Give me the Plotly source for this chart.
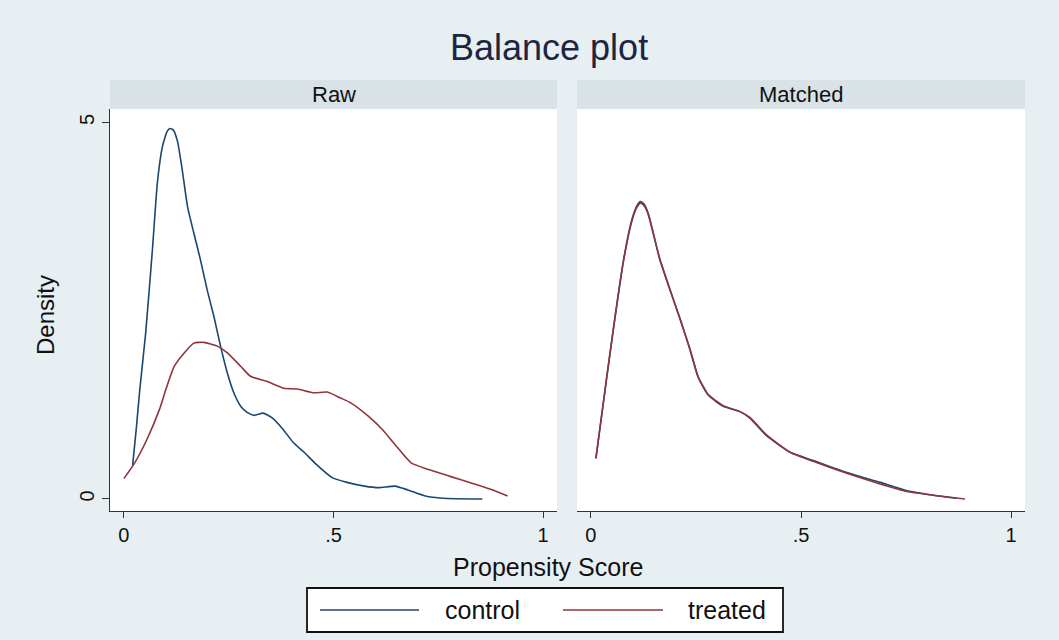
import plotly.graph_objects as go

# ---------------- data ----------------
raw_control_x = [0.021, 0.030, 0.038, 0.052, 0.068, 0.080, 0.092, 0.103, 0.110, 0.118, 0.128, 0.138, 0.152, 0.167,
                 0.183, 0.199, 0.215, 0.231, 0.247, 0.263, 0.280, 0.294, 0.311, 0.332, 0.353, 0.379,
                 0.404, 0.430, 0.455, 0.498, 0.532, 0.574, 0.608, 0.647, 0.677, 0.719, 0.762, 0.855]
raw_control_y = [0.45, 0.95, 1.45, 2.20, 3.30, 4.20, 4.68, 4.88, 4.92, 4.90, 4.75, 4.42, 3.88, 3.53,
                 3.17, 2.77, 2.42, 2.02, 1.67, 1.40, 1.22, 1.15, 1.11, 1.14, 1.08, 0.93,
                 0.75, 0.62, 0.48, 0.28, 0.22, 0.17, 0.15, 0.17, 0.12, 0.04, 0.01, 0.00]

raw_treated_x = [0.0, 0.026, 0.055, 0.085, 0.100, 0.120, 0.144, 0.167, 0.191, 0.223, 0.247, 0.279,
                 0.302, 0.342, 0.382, 0.414, 0.453, 0.485, 0.517, 0.540, 0.583, 0.617, 0.650, 0.685,
                 0.727, 0.778, 0.830, 0.880, 0.915]
raw_treated_y = [0.27, 0.48, 0.79, 1.19, 1.45, 1.76, 1.94, 2.07, 2.08, 2.03, 1.94, 1.76,
                 1.63, 1.56, 1.47, 1.46, 1.41, 1.42, 1.34, 1.28, 1.10, 0.92, 0.70, 0.48,
                 0.39, 0.30, 0.21, 0.12, 0.04]

matched_control_x = [0.012, 0.037, 0.057, 0.077, 0.097, 0.110, 0.118, 0.126, 0.136, 0.164, 0.188, 0.212, 0.236, 0.255,
                     0.279, 0.315, 0.355, 0.379, 0.418, 0.474, 0.529, 0.609, 0.688, 0.752, 0.815, 0.870]
matched_control_y = [0.54, 1.58, 2.40, 3.15, 3.70, 3.90, 3.95, 3.92, 3.80, 3.18, 2.78, 2.40, 1.98, 1.62,
                     1.38, 1.23, 1.16, 1.07, 0.84, 0.62, 0.51, 0.35, 0.22, 0.11, 0.05, 0.01]

matched_treated_x = [0.012, 0.037, 0.057, 0.077, 0.097, 0.110, 0.118, 0.126, 0.136, 0.164, 0.188, 0.212, 0.236, 0.255,
                     0.279, 0.315, 0.355, 0.379, 0.418, 0.474, 0.529, 0.609, 0.688, 0.752, 0.815, 0.890]
matched_treated_y = [0.54, 1.59, 2.39, 3.14, 3.68, 3.88, 3.93, 3.90, 3.79, 3.19, 2.79, 2.39, 1.99, 1.63,
                     1.39, 1.24, 1.16, 1.08, 0.85, 0.62, 0.50, 0.34, 0.20, 0.10, 0.05, 0.00]

x_tickvals = [0, 0.5, 1]
x_ticktext = ["0", ".5", "1"]
y_tickvals = [0, 5]
y_ticktext = ["0", "5"]
panel_titles = ["Raw", "Matched"]
series_names = ["control", "treated"]

NAVY = "#1a476f"
MAROON = "#90353b"
BG = "#e8eff2"
STRIP = "#d8e2e7"
FONT = "Liberation Sans, Arial, sans-serif"

W, H = 1059, 640


def px_x(p):
    return p / W


def px_y(p):
    return 1 - p / H


fig = go.Figure()

line_w = 1.6
fig.add_trace(go.Scatter(x=raw_control_x, y=raw_control_y, mode="lines", name=series_names[0],
                         line=dict(color=NAVY, width=line_w, shape="spline", smoothing=0.5),
                         xaxis="x", yaxis="y", showlegend=False))
fig.add_trace(go.Scatter(x=raw_treated_x, y=raw_treated_y, mode="lines", name=series_names[1],
                         line=dict(color=MAROON, width=line_w, shape="spline", smoothing=0.5),
                         xaxis="x", yaxis="y", showlegend=False))
fig.add_trace(go.Scatter(x=matched_control_x, y=matched_control_y, mode="lines", name=series_names[0],
                         line=dict(color=NAVY, width=line_w, shape="spline", smoothing=0.5),
                         xaxis="x2", yaxis="y2", showlegend=False))
fig.add_trace(go.Scatter(x=matched_treated_x, y=matched_treated_y, mode="lines", name=series_names[1],
                         line=dict(color=MAROON, width=line_w, shape="spline", smoothing=0.5),
                         xaxis="x2", yaxis="y2", showlegend=False))

left_dom = [px_x(110), px_x(557)]
right_dom = [px_x(577), px_x(1025)]
y_dom = [px_y(511), px_y(109)]
x_range = [-0.033, 1.033]
y_range = [-0.16, 5.18]

xaxis_common = dict(range=x_range, tickvals=x_tickvals, ticktext=x_ticktext, ticks="outside",
                    ticklen=6, tickwidth=1, tickcolor="#333333", showline=True, linecolor="#333333",
                    linewidth=1, showgrid=False, zeroline=False, mirror=False,
                    tickfont=dict(family=FONT, size=20, color="#111111"))

fig.update_layout(
    width=W, height=H,
    margin=dict(l=0, r=0, t=0, b=0),
    paper_bgcolor=BG,
    plot_bgcolor="white",
    showlegend=False,
    xaxis=dict(xaxis_common, domain=left_dom, anchor="y"),
    xaxis2=dict(xaxis_common, domain=right_dom, anchor="y2"),
    yaxis=dict(domain=y_dom, range=y_range, tickvals=y_tickvals, ticktext=y_ticktext,
               ticks="outside", ticklen=7, tickwidth=1, tickcolor="#333333", showline=True,
               linecolor="#333333", linewidth=1, showgrid=False, zeroline=False, tickangle=-90,
               tickfont=dict(family=FONT, size=20, color="#111111"), anchor="x"),
    yaxis2=dict(domain=y_dom, range=y_range, showticklabels=False, ticks="", showline=False,
                showgrid=False, zeroline=False, anchor="x2"),
)

shapes = []
annotations = []

# strip headers
for dom, title in zip([left_dom, right_dom], panel_titles):
    shapes.append(dict(type="rect", xref="paper", yref="paper", x0=dom[0], x1=dom[1],
                       y0=px_y(109), y1=px_y(80), fillcolor=STRIP, line=dict(width=0), layer="below"))
    annotations.append(dict(text=title, xref="paper", yref="paper", x=(dom[0] + dom[1]) / 2,
                            y=px_y(94.5), showarrow=False, xanchor="center", yanchor="middle",
                            font=dict(family=FONT, size=22, color="#111111")))

# title
annotations.append(dict(text="Balance plot", xref="paper", yref="paper", x=px_x(549), y=px_y(48),
                        showarrow=False, xanchor="center", yanchor="middle",
                        font=dict(family=FONT, size=36, color="#1c2541")))
# axis titles
annotations.append(dict(text="Propensity Score", xref="paper", yref="paper", x=px_x(548), y=px_y(567),
                        showarrow=False, xanchor="center", yanchor="middle",
                        font=dict(family=FONT, size=25, color="#111111")))
annotations.append(dict(text="Density", xref="paper", yref="paper", x=px_x(45), y=px_y(315),
                        showarrow=False, xanchor="center", yanchor="middle", textangle=-90,
                        font=dict(family=FONT, size=24, color="#111111")))

# legend box
shapes.append(dict(type="rect", xref="paper", yref="paper", x0=px_x(307), x1=px_x(783),
                   y0=px_y(632), y1=px_y(588), fillcolor="white",
                   line=dict(color="#111111", width=1.8)))
for (lx0, lx1, tx), color, name in zip([(320, 419, 443), (563, 663, 686)], [NAVY, MAROON], series_names):
    shapes.append(dict(type="line", xref="paper", yref="paper", x0=px_x(lx0), x1=px_x(lx1),
                       y0=px_y(610), y1=px_y(610), line=dict(color=color, width=1.6)))
    annotations.append(dict(text=name, xref="paper", yref="paper", x=px_x(tx), y=px_y(610),
                            showarrow=False, xanchor="left", yanchor="middle",
                            font=dict(family=FONT, size=25, color="#111111")))

fig.update_layout(shapes=shapes, annotations=annotations)

fig.write_html("out.html", config={"displayModeBar": False},
               post_script="document.body.style.margin='0';document.body.style.background='%s';" % BG)
